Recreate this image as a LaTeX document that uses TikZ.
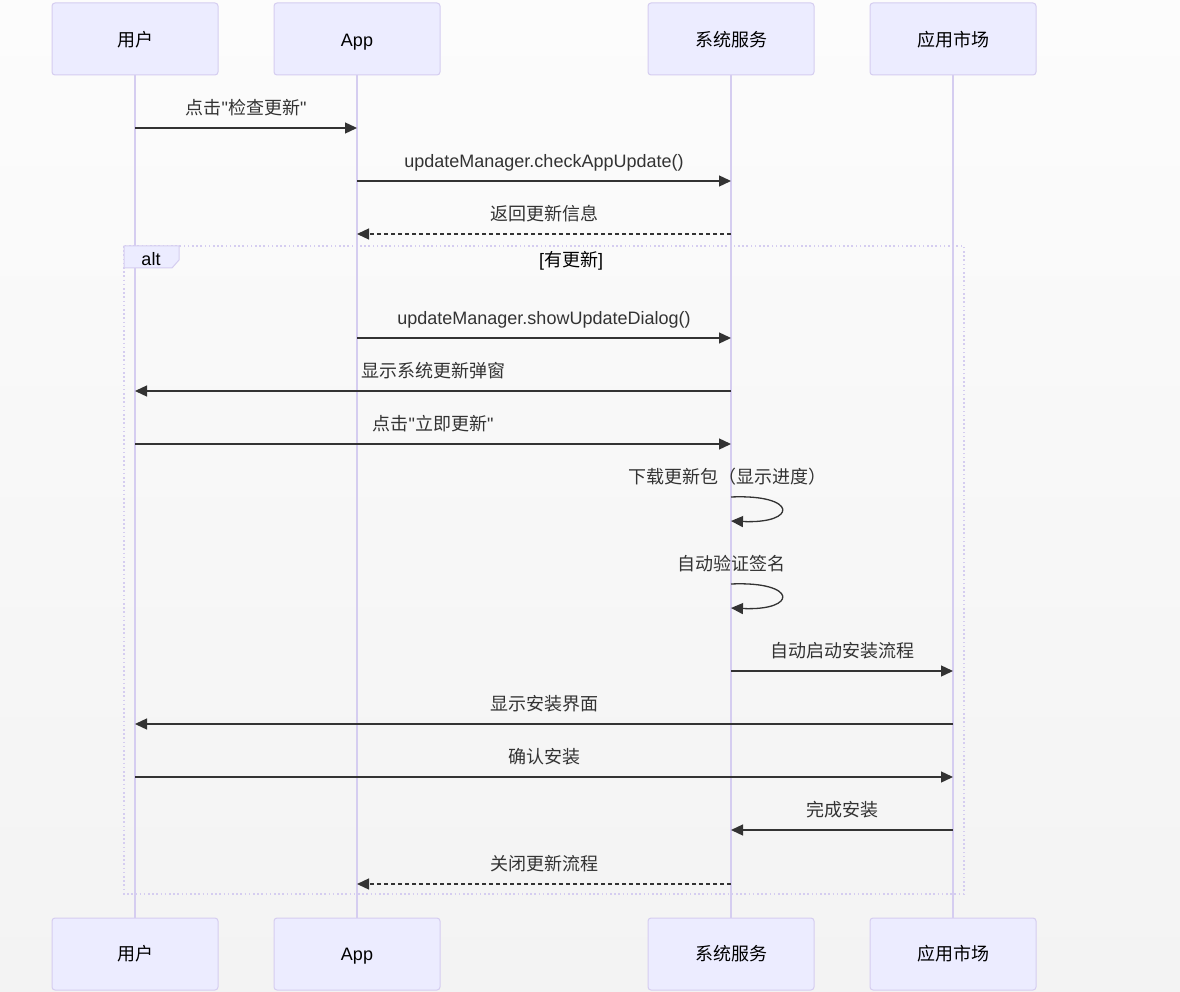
\documentclass[tikz,border=0pt]{standalone}
\usepackage{fontspec}
\setmainfont{Liberation Sans}
\newfontfamily\cjk{Noto Sans CJK SC}
\usetikzlibrary{arrows.meta}
\definecolor{actfill}{HTML}{ECECFF}
\definecolor{actline}{HTML}{D5CDF0}
\definecolor{ink}{HTML}{333333}
\definecolor{bgtop}{HTML}{FCFCFC}
\definecolor{bgbot}{HTML}{F3F3F3}
\newcommand{\qq}{\textquotedbl}
\begin{document}
\begin{tikzpicture}[x=1pt,y=-1pt,
  actor/.style={draw=actline, fill=actfill, line width=1pt, rounded corners=3pt,
    minimum width=166pt, minimum height=72pt, inner sep=0pt,
    font=\fontsize{18}{21}\selectfont, text=black},
  actext/.style={font=\fontsize{18}{21}\selectfont, text=black, inner sep=0pt,
    text height=13pt, text depth=0pt},
  lifeline/.style={draw=actline, line width=2pt},
  msg/.style={draw=ink, line width=1.3pt, -{Triangle[length=12pt,width=11pt]}},
  reply/.style={msg, dash pattern=on 4pt off 3pt},
  lbl/.style={font=\fontsize{18}{21}\selectfont, text=ink, inner sep=0pt,
    text height=13pt, text depth=0pt},
  altline/.style={draw=actline, line width=1.6pt, dash pattern=on 1.6pt off 2.6pt}]
\shade[top color=bgtop, bottom color=bgbot] (0,0) rectangle (1180,992);
\useasboundingbox (0,0) rectangle (1180,992);

% actors
\node[actor] (u1) at (135,39) {};
\node[actor] (a1) at (357,39) {};
\node[actor] (s1) at (731,39) {};
\node[actor] (m1) at (953,39) {};
\node[actor] (u2) at (135,954) {};
\node[actor] (a2) at (357,954) {};
\node[actor] (s2) at (731,954) {};
\node[actor] (m2) at (953,954) {};
\node[actext] (u1t) at (135,40) {\cjk 用户};
\node[actext] (a1t) at (357,40) {App};
\node[actext] (s1t) at (731,40) {\cjk 系统服务};
\node[actext] (m1t) at (953,40) {\cjk 应用市场};
\node[actext] (u2t) at (135,954) {\cjk 用户};
\node[actext] (a2t) at (357,954) {App};
\node[actext] (s2t) at (731,954) {\cjk 系统服务};
\node[actext] (m2t) at (953,954) {\cjk 应用市场};

% lifelines
\draw[lifeline] (u1) -- (u2);
\draw[lifeline] (a1) -- (a2);
\draw[lifeline] (s1) -- (s2);
\draw[lifeline] (m1) -- (m2);

% alt frame
\draw[altline] (124,246) rectangle (964,894);
\draw[draw=actline, fill=actfill, line width=1pt] (124,246) -- (179,246) -- (179,260) -- (172,268) -- (124,268) -- cycle;
\node[lbl, text=black] (altlbl) at (151,259) {alt};
\node[lbl, text=black] (cond) at (571,260) {[{\cjk 有更新}]};

% message rows
\coordinate (r1) at (0,128);
\coordinate (r2) at (0,181);
\coordinate (r3) at (0,234);
\coordinate (r4) at (0,338);
\coordinate (r5) at (0,391);
\coordinate (r6) at (0,444);
\coordinate (l1a) at (0,497);
\coordinate (l1b) at (0,521);
\coordinate (l2a) at (0,584);
\coordinate (l2b) at (0,608);
\coordinate (r9) at (0,671);
\coordinate (r10) at (0,724);
\coordinate (r11) at (0,777);
\coordinate (r12) at (0,830);
\coordinate (r13) at (0,884);

\draw[msg] (u1 |- r1) -- (a1 |- r1) node[lbl, midway, yshift=20pt] {{\cjk 点击}\qq{\cjk 检查更新}\qq};
\draw[msg] (a1 |- r2) -- (s1 |- r2) node[lbl, midway, yshift=20pt] {updateManager.checkAppUpdate()};
\draw[reply] (s1 |- r3) -- (a1 |- r3) node[lbl, midway, yshift=20pt] {\cjk 返回更新信息};
\draw[msg] (a1 |- r4) -- (s1 |- r4) node[lbl, midway, yshift=20pt] {updateManager.showUpdateDialog()};
\draw[msg] (s1 |- r5) -- (u1 |- r5) node[lbl, midway, yshift=20pt] {\cjk 显示系统更新弹窗};
\draw[msg] (u1 |- r6) -- (s1 |- r6) node[lbl, midway, yshift=20pt] {{\cjk 点击}\qq{\cjk 立即更新}\qq};

\draw[msg] (s1 |- l1a) .. controls +(67,-3) and +(67,3) .. (s1 |- l1b);
\node[lbl] (t7) at (727,477) {\cjk 下载更新包（显示进度）};
\draw[msg] (s1 |- l2a) .. controls +(67,-3) and +(67,3) .. (s1 |- l2b);
\node[lbl] (t8) at (731,564) {\cjk 自动验证签名};

\draw[msg] (s1 |- r9) -- (m1 |- r9) node[lbl, midway, yshift=20pt] {\cjk 自动启动安装流程};
\draw[msg] (m1 |- r10) -- (u1 |- r10) node[lbl, midway, yshift=20pt] {\cjk 显示安装界面};
\draw[msg] (u1 |- r11) -- (m1 |- r11) node[lbl, midway, yshift=20pt] {\cjk 确认安装};
\draw[msg] (m1 |- r12) -- (s1 |- r12) node[lbl, midway, yshift=20pt] {\cjk 完成安装};
\draw[reply] (s1 |- r13) -- (a1 |- r13) node[lbl, midway, yshift=20pt] {\cjk 关闭更新流程};
\end{tikzpicture}
\end{document}
